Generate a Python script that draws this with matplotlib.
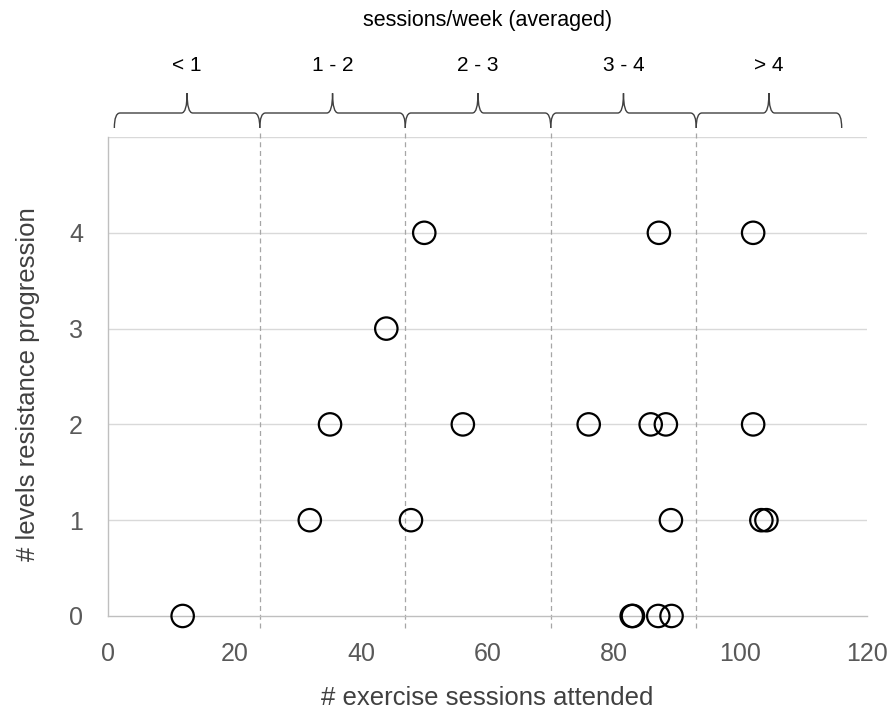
import matplotlib
matplotlib.use("Agg")
import matplotlib.pyplot as plt
from matplotlib.path import Path
from matplotlib.patches import PathPatch
from matplotlib import transforms

# data
sessions = [11.8, 31.9, 47.9, 35.1, 56.1, 44.0, 50.0,
            76.0, 85.8, 88.2, 87.1, 89.0, 82.8, 83.0, 87.0, 89.1,
            102.0, 102.0, 103.3, 104.1]
levels = [0, 1, 1, 2, 2, 3, 4,
          2, 2, 2, 4, 1, 0, 0, 0, 0,
          4, 2, 1, 1]

group_labels = ["< 1", "1 - 2", "2 - 3", "3 - 4", "> 4"]
group_edges = [1, 24, 47, 70, 93, 116]

plt.rcParams['font.family'] = ['Liberation Sans', 'DejaVu Sans']

fig = plt.figure(figsize=(8.95, 7.17), dpi=100)
ax = fig.add_axes([0.1207, 0.1409, 0.8480, 0.6680])

grid_c = "#d9d9d9"
text_c = "#595959"

ax.set_xlim(0, 120)
ax.set_ylim(0, 5)
ax.set_xticks(range(0, 121, 20))
ax.set_yticks([0, 1, 2, 3, 4])
for yv in [1, 2, 3, 4, 5]:
    ax.axhline(yv, color=grid_c, lw=1, zorder=0)

for side in ["top", "right"]:
    ax.spines[side].set_visible(False)
for side in ["left", "bottom"]:
    ax.spines[side].set_color("#bfbfbf")
    ax.spines[side].set_linewidth(1)
ax.tick_params(length=0, labelsize=18, labelcolor=text_c)
ax.tick_params(axis="x", pad=19)
ax.tick_params(axis="y", pad=18)

# dashed dividers between session groups
ax.vlines(group_edges[1:-1], -0.13, 5.05, colors="#a6a6a6",
          linestyles=(0, (4, 3)), lw=0.9, clip_on=False, zorder=1)

ax.scatter(sessions, levels, s=260, facecolors="none", edgecolors="black",
           linewidths=1.6, clip_on=False, zorder=3)

ax.set_xlabel("# exercise sessions attended", fontsize=18.5, color="#404040")
ax.set_ylabel("# levels resistance progression", fontsize=18.5, color="#404040")
ax.xaxis.set_label_coords(0.5, -0.171)
ax.xaxis.label.set_va("center")
ax.yaxis.set_label_coords(-0.105, 0.485)
ax.yaxis.label.set_va("center")

# braces above the axes (x in data, y in figure)
trans = transforms.blended_transform_factory(ax.transData, fig.transFigure)
y_end, y_bar, y_tip = 0.8215, 0.8424, 0.870
dx = 0.9
for lab, a, b in zip(group_labels, group_edges[:-1], group_edges[1:]):
    m = (a + b) / 2
    verts = [(a, y_end), (a, y_bar), (a + dx, y_bar),
             (m - dx, y_bar),
             (m, y_bar), (m, y_tip),
             (m, y_bar), (m + dx, y_bar),
             (b - dx, y_bar),
             (b, y_bar), (b, y_end)]
    codes = [Path.MOVETO, Path.CURVE3, Path.CURVE3,
             Path.LINETO,
             Path.CURVE3, Path.CURVE3,
             Path.CURVE3, Path.CURVE3,
             Path.LINETO,
             Path.CURVE3, Path.CURVE3]
    ax.add_patch(PathPatch(Path(verts, codes), transform=trans, fill=False,
                           edgecolor="#404040", lw=1.0, clip_on=False))
    ax.text(m, 0.909, lab, transform=trans, ha="center", va="center",
            fontsize=15, color="black")

title_trans = transforms.blended_transform_factory(ax.transAxes, fig.transFigure)
ax.text(0.5, 0.972, "sessions/week (averaged)", transform=title_trans,
        ha="center", va="center", fontsize=15.5, color="black")

fig.savefig("out.png", dpi=100)
